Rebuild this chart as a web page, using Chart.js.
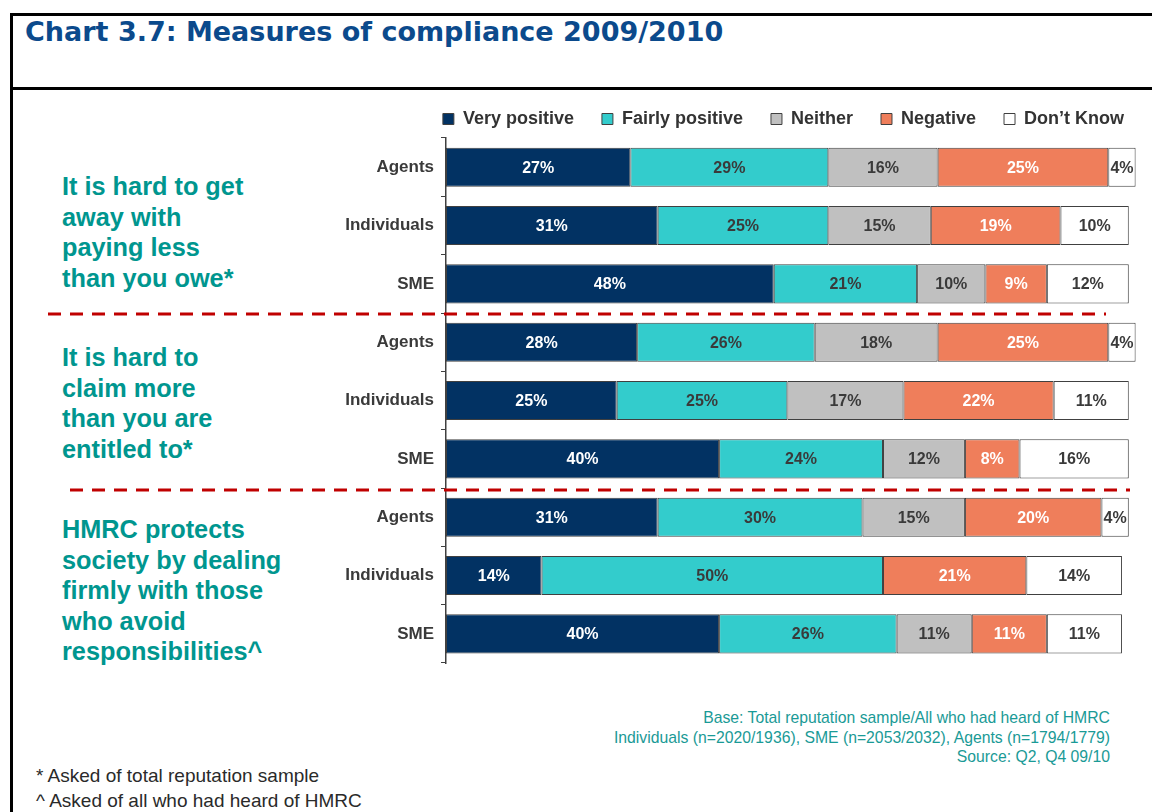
<!DOCTYPE html>
<html>
<head>
<meta charset="utf-8">
<script src="https://cdn.jsdelivr.net/npm/chart.js@4.4.1/dist/chart.umd.min.js"></script>
<style>
  html, body { margin:0; padding:0; width:1152px; height:812px; overflow:hidden; background:#fff; }
  body { position:relative; font-family:"Liberation Sans", Arial, sans-serif; }
  .frame { position:absolute; left:10px; top:13px; width:1200px; height:820px; border-left:3px solid #000; border-top:3px solid #000; box-sizing:border-box; }
  .hline { position:absolute; left:10px; top:87px; width:1200px; height:3px; background:#000; }
  .title { position:absolute; left:25px; top:16px; font-family:"DejaVu Sans", Verdana, sans-serif; font-weight:bold; font-size:27px; color:#0b4a8c; white-space:nowrap; }
  .group { position:absolute; left:62px; font-weight:bold; font-size:25.3px; line-height:30.5px; color:#00968f; white-space:nowrap; }
  .base { position:absolute; right:42px; top:708px; text-align:right; font-size:15.75px; line-height:19.5px; color:#1a9a96; white-space:nowrap; }
  .foot { position:absolute; left:36px; top:763px; font-size:19px; line-height:25px; color:#2a2a2a; white-space:nowrap; }
  #wrap { position:absolute; left:0; top:82px; width:1152px; height:600px; }
</style>
</head>
<body>
<div class="frame"></div>
<div class="hline"></div>
<div class="title">Chart 3.7: Measures of compliance 2009/2010</div>

<div class="group" style="top:171px">It is hard to get<br>away with<br>paying less<br>than you owe*</div>
<div class="group" style="top:342px">It is hard to<br>claim more<br>than you are<br>entitled to*</div>
<div class="group" style="top:514px">HMRC protects<br>society by dealing<br>firmly with those<br>who avoid<br>responsibilities^</div>

<div id="wrap"><canvas id="c" width="1152" height="600"></canvas></div>

<div class="base">Base: Total reputation sample/All who had heard of HMRC<br>Individuals (n=2020/1936), SME (n=2053/2032), Agents (n=1794/1779)<br>Source: Q2, Q4 09/10</div>
<div class="foot">* Asked of total reputation sample<br>^ Asked of all who had heard of HMRC</div>

<script>
const categories = ["Agents","Individuals","SME","Agents","Individuals","SME","Agents","Individuals","SME"];
const seriesNames = ["Very positive","Fairly positive","Neither","Negative","Don\u2019t Know"];
const veryPositive   = [27, 31, 48, 28, 25, 40, 31, 14, 40];
const fairlyPositive = [29, 25, 21, 26, 25, 24, 30, 50, 26];
const neither        = [16, 15, 10, 18, 17, 12, 15, 0, 11];
const negative       = [25, 19, 9, 25, 22, 8, 20, 21, 11];
const dontKnow       = [4, 10, 12, 4, 11, 16, 4, 14, 11];

const fillColors  = ["#023263", "#33cccc", "#c0c0c0", "#ef7e5b", "#ffffff"];
const labelColors = ["#ffffff", "#3a3a3a", "#3a3a3a", "#ffffff", "#3a3a3a"];
const FONT = '"Liberation Sans", Arial, sans-serif';

const seriesData = [veryPositive, fairlyPositive, neither, negative, dontKnow];

const valueLabels = {
  id: 'valueLabels',
  afterDatasetsDraw(chart) {
    const ctx = chart.ctx;
    ctx.save();
    ctx.font = 'bold 16px ' + FONT;
    ctx.textAlign = 'center';
    ctx.textBaseline = 'middle';
    chart.data.datasets.forEach((ds, i) => {
      const meta = chart.getDatasetMeta(i);
      meta.data.forEach((bar, j) => {
        const v = ds.data[j];
        if (!v) return;
        const p = bar.getProps(['x', 'y', 'base'], true);
        ctx.fillStyle = labelColors[i];
        ctx.fillText(v + '%', (p.x + p.base) / 2, p.y + 1);
      });
    });
    ctx.restore();
  }
};

const separators = {
  id: 'separators',
  afterDraw(chart) {
    const y = chart.scales.y;
    const ctx = chart.ctx;
    const defs = [{after: 2, x0: 48, x1: 1106, dy: 1}, {after: 5, x0: 70, x1: 1130, dy: 2}];
    ctx.save();
    ctx.strokeStyle = '#c00000';
    ctx.lineWidth = 3;
    ctx.setLineDash([13, 9]);
    defs.forEach(d => {
      const yy = (y.getPixelForValue(d.after) + y.getPixelForValue(d.after + 1)) / 2 + d.dy;
      ctx.beginPath();
      ctx.moveTo(d.x0, yy);
      ctx.lineTo(d.x1, yy);
      ctx.stroke();
    });
    ctx.restore();
  }
};

const legendHeight = {
  id: 'legendHeight',
  beforeInit(chart) {
    const orig = chart.legend.fit;
    chart.legend.fit = function () {
      orig.bind(chart.legend)();
      this.height = 56;
    };
  }
};

new Chart(document.getElementById('c'), {
  type: 'bar',
  data: {
    labels: categories,
    datasets: seriesNames.map((name, i) => ({
      label: name,
      data: seriesData[i],
      backgroundColor: fillColors[i],
      borderColor: '#404040',
      borderWidth: 1,
      borderSkipped: false,
      barPercentage: 0.67,
      categoryPercentage: 1
    }))
  },
  options: {
    indexAxis: 'y',
    responsive: false,
    animation: false,
    devicePixelRatio: 1,
    layout: { padding: { left: 0, right: 0, top: 0, bottom: 19 } },
    scales: {
      x: { stacked: true, display: false, min: 0, max: 103.4 },
      y: {
        stacked: true,
        afterFit(scale) { scale.width = 446; },
        grid: { display: true, drawOnChartArea: false, drawTicks: true, tickLength: 5, color: '#404040', offset: true },
        border: { display: true, color: '#404040', width: 1.5 },
        ticks: { color: '#3a3a3a', padding: 7, font: { family: FONT, size: 17, weight: 'bold' } }
      }
    },
    plugins: {
      legend: {
        position: 'top',
        align: 'end',
        labels: {
          boxWidth: 11,
          boxHeight: 11,
          padding: 28,
          color: '#333333',
          font: { family: FONT, size: 18, weight: 'bold' }
        }
      },
      tooltip: { enabled: false }
    }
  },
  plugins: [legendHeight, valueLabels, separators]
});
</script>
</body>
</html>
